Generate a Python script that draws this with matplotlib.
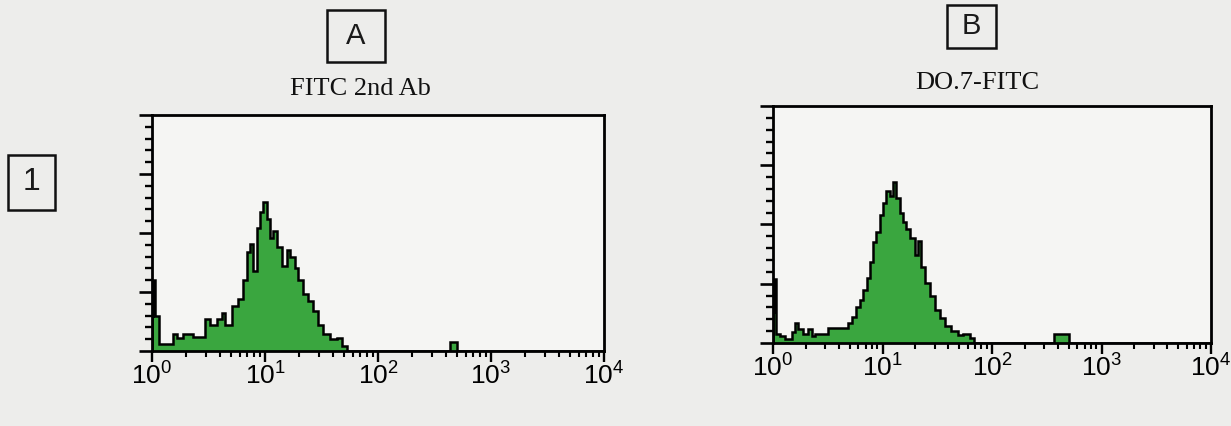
import numpy as np
import matplotlib
matplotlib.use("Agg")
import matplotlib.pyplot as plt
from matplotlib.patches import Rectangle
from matplotlib.ticker import LogLocator, LogFormatterMathtext, MultipleLocator, NullFormatter

# ---------------- data (log10 fluorescence bin edges, relative cell counts) ----------------
edges_a = [0.0, 0.012, 0.027, 0.065, 0.189, 0.218, 0.277, 0.366, 0.469, 0.513, 0.572,
           0.617, 0.646, 0.705, 0.764, 0.808, 0.838, 0.867, 0.897, 0.926, 0.956, 0.985,
           1.015, 1.044, 1.074, 1.103, 1.148, 1.192, 1.221, 1.265, 1.295, 1.339, 1.383,
           1.428, 1.472, 1.516, 1.575, 1.634, 1.679, 1.723, 2.64, 2.70, 4.0]
counts_a = [0.15, 0.30, 0.15, 0.03, 0.07, 0.055, 0.07, 0.06, 0.135, 0.11,
            0.135, 0.16, 0.11, 0.19, 0.22, 0.30, 0.42, 0.455, 0.34, 0.52, 0.59,
            0.63, 0.56, 0.48, 0.51, 0.44, 0.36, 0.43, 0.40, 0.35, 0.30, 0.24,
            0.21, 0.17, 0.11, 0.07, 0.05, 0.055, 0.02, 0.0, 0.04, 0.0]

edges_b = [0.0, 0.012, 0.030, 0.064, 0.109, 0.170, 0.200, 0.231, 0.276, 0.322, 0.352,
           0.383, 0.504, 0.686, 0.717, 0.762, 0.793, 0.823, 0.854, 0.884, 0.914, 0.945,
           0.975, 1.005, 1.036, 1.066, 1.096, 1.121, 1.157, 1.187, 1.218, 1.248, 1.294,
           1.324, 1.355, 1.385, 1.431, 1.476, 1.522, 1.567, 1.628, 1.688, 1.734, 1.795,
           1.840, 2.57, 2.70, 4.0]
counts_b = [0.13, 0.27, 0.04, 0.03, 0.015, 0.047, 0.085, 0.06, 0.04, 0.06,
            0.03, 0.04, 0.064, 0.085, 0.11, 0.15, 0.18, 0.225, 0.275, 0.34, 0.425,
            0.47, 0.54, 0.59, 0.64, 0.62, 0.68, 0.61, 0.55, 0.51, 0.48, 0.445,
            0.37, 0.43, 0.32, 0.255, 0.20, 0.14, 0.105, 0.07, 0.05, 0.035, 0.04,
            0.02, 0.0, 0.04, 0.0]

panel_letters = ["A", "B"]
panel_titles = ["FITC 2nd Ab", "DO.7-FITC"]
row_label = "1"
x_ticks = [1, 10, 100, 1000, 10000]

# ---------------- style ----------------
plt.rcParams['font.family'] = ['Liberation Sans', 'DejaVu Sans']
plt.rcParams['mathtext.fontset'] = 'custom'
plt.rcParams['mathtext.rm'] = 'Liberation Sans'

W, H = 1231, 426
fig = plt.figure(figsize=(W / 100, H / 100), dpi=100)
fig.patch.set_facecolor('#ededeb')

GREEN = '#3aa63f'


def px_rect(l, t, r, b):
    return [l / W, 1 - b / H, (r - l) / W, (b - t) / H]


def draw_hist(ax, edges, counts):
    e = 10 ** np.asarray(edges)
    v = np.asarray(counts)
    ax.stairs(v, e, baseline=0, fill=True, color=GREEN, lw=0, zorder=2)
    ax.stairs(v, e, baseline=0, fill=False, color='black', lw=1.8, zorder=3)
    ax.set_xscale('log')
    ax.set_xlim(1, 1e4)
    ax.set_ylim(0, 1)
    ax.set_facecolor('#f5f5f3')
    for s in ax.spines.values():
        s.set_linewidth(2.0)
    ax.set_xticks(x_ticks)
    ax.xaxis.set_major_formatter(LogFormatterMathtext())
    ax.xaxis.set_minor_locator(LogLocator(base=10, subs=np.arange(2, 10), numticks=20))
    ax.xaxis.set_minor_formatter(NullFormatter())
    ax.yaxis.set_major_locator(MultipleLocator(0.25))
    ax.yaxis.set_minor_locator(MultipleLocator(0.05))
    ax.yaxis.set_major_formatter(NullFormatter())
    ax.tick_params(axis='x', which='major', direction='out', length=8, width=1.7,
                   labelsize=19, pad=0.5)
    ax.tick_params(axis='x', which='minor', direction='out', length=4.5, width=1.5)
    ax.tick_params(axis='y', which='major', direction='out', length=9.5, width=1.9)
    ax.tick_params(axis='y', which='minor', direction='out', length=5, width=1.7)
    ax.tick_params(top=False, right=False, which='both')


ax_a = fig.add_axes(px_rect(152, 115, 604, 351))
draw_hist(ax_a, edges_a, counts_a)
ax_b = fig.add_axes(px_rect(773, 106, 1211, 343))
draw_hist(ax_b, edges_b, counts_b)


def boxed(label, l, t, r, b, size):
    fig.patches.append(Rectangle((l / W, 1 - b / H), (r - l) / W, (b - t) / H,
                                 transform=fig.transFigure, fill=False,
                                 edgecolor='#111111', lw=1.8))
    fig.text((l + r) / 2 / W, 1 - (t + b) / 2 / H, label, ha='center', va='center',
             fontsize=size, color='#1a1a1a', family='Liberation Sans')


boxed(panel_letters[0], 327, 10, 385, 62, 21)
boxed(panel_letters[1], 947, 5, 996, 48, 21)
boxed(row_label, 8, 155, 55, 210, 23)

fig.text(360 / W, 1 - 89 / H, panel_titles[0], ha='center', va='center',
         fontsize=19, family='Liberation Serif', color='#111111')
fig.text(977 / W, 1 - 83 / H, panel_titles[1], ha='center', va='center',
         fontsize=19, family='Liberation Serif', color='#111111')

fig.savefig('out.png', dpi=100, facecolor=fig.get_facecolor())
